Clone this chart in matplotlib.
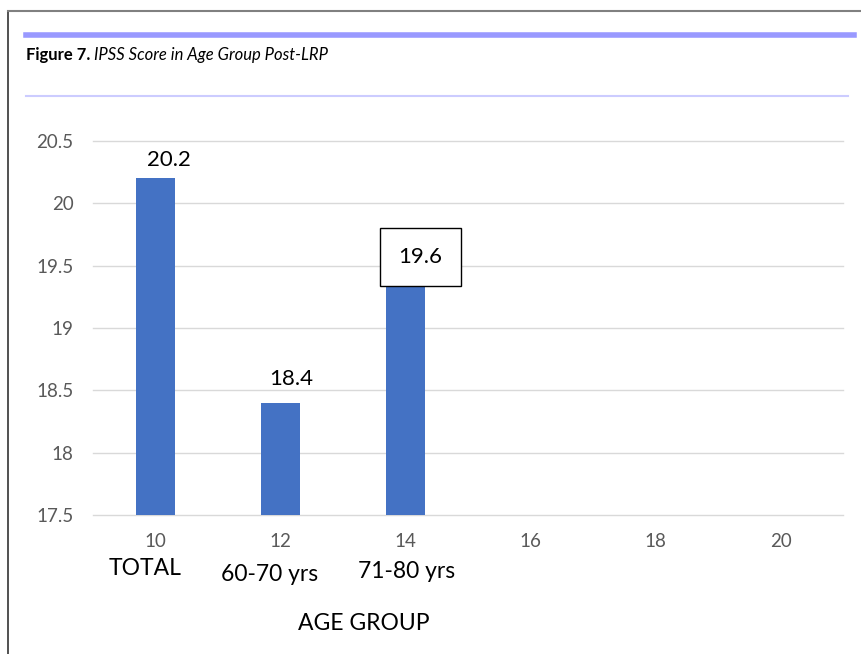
import matplotlib
matplotlib.use("Agg")
from matplotlib import pyplot as plt
from matplotlib.lines import Line2D

plt.rcParams["font.family"] = ["Lato", "DejaVu Sans"]

# IPSS score after LRP, by age group
groups = ["TOTAL", "60-70 yrs", "71-80 yrs"]
group_x = [10, 12, 14]
scores = [20.2, 18.4, 19.6]
y_ticks = [17.5, 18, 18.5, 19, 19.5, 20, 20.5]
x_ticks = [10, 12, 14, 16, 18, 20]

bar_color = "#4472C4"
grid_color = "#d9d9d9"
tick_color = "#595959"

fig = plt.figure(figsize=(8.61, 6.54), dpi=100)
W, H = 861, 654


def fx(px):
    return px / W


def fy(py):
    return 1 - py / H


# page frame and journal rules
fig.add_artist(Line2D([fx(8), fx(8)], [fy(11), 0], color="#333333", lw=1.2))
fig.add_artist(Line2D([fx(8), 1], [fy(11), fy(11)], color="#808080", lw=1.5))
fig.add_artist(Line2D([fx(26), fx(854)], [fy(34.5), fy(34.5)], color="#9999ff", lw=4))
fig.add_artist(Line2D([fx(26), fx(848)], [fy(96), fy(96)], color="#ccccff", lw=1.5))

# caption: bold part, then italic part right after it
t1 = fig.text(fx(26), fy(60), "Figure 7.", fontsize=12, fontweight="bold", va="baseline")
fig.canvas.draw()
bb = t1.get_window_extent()
fig.text(bb.x1 / W + fx(4), fy(60), "IPSS Score in Age Group Post-LRP",
         fontsize=12, fontstyle="italic", va="baseline")

ax = fig.add_axes([fx(93), fy(515), fx(843) - fx(93), fy(141) - fy(515)])
ax.bar(group_x, scores, width=0.62, color=bar_color, zorder=2)

ax.set_xlim(9, 21)
ax.set_ylim(17.5, 20.5)
ax.set_yticks(y_ticks)
ax.set_yticklabels(["%g" % v for v in y_ticks])
ax.set_xticks(x_ticks)
ax.set_xticklabels([str(v) for v in x_ticks])
ax.tick_params(length=0, colors=tick_color, labelsize=13.5)
ax.tick_params(axis="y", pad=14)
ax.tick_params(axis="x", pad=13)
for s in ax.spines.values():
    s.set_visible(False)
for v in y_ticks:
    ax.axhline(v, color=grid_color, lw=1, zorder=1, clip_on=False)

# value labels
label_offsets = [(9.7, 13.3), (7.6, 17), (10.8, -2.5)]
for i, (x, v) in enumerate(zip(group_x, scores)):
    dx, dy = label_offsets[i]
    kw = {}
    if i == 2:
        kw["bbox"] = dict(boxstyle="square,pad=0.85", fc="white", ec="black", lw=1)
    ax.annotate("%.1f" % v, (x, v), xytext=(dx, dy), textcoords="offset points",
                ha="center", va="center", fontsize=16, color="black", zorder=3, **kw)

# group names under the numeric ticks
name_offsets = [(-7.5, -38.5), (-8, -42.5), (0.5, -40.5)]
for (x, name), (dx, dy) in zip(zip(group_x, groups), name_offsets):
    ax.annotate(name, (x, 0), xycoords=("data", "axes fraction"),
                xytext=(dx, dy), textcoords="offset points",
                ha="center", va="center", fontsize=16.5, color="black")

fig.text(fx(363.5), fy(623), "AGE GROUP", ha="center", va="center", fontsize=16.5, color="black")

fig.savefig("out.png", dpi=100, facecolor="white")
